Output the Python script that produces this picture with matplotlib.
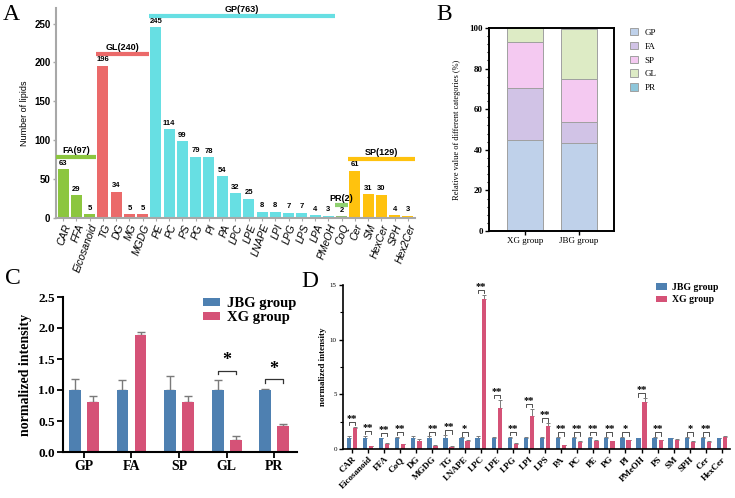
import matplotlib
matplotlib.use('Agg')
import matplotlib.pyplot as plt
import numpy as np
from matplotlib.patches import Patch
from matplotlib.ticker import MultipleLocator

# ---------------- data ----------------
# Panel A
lipids_A = ['CAR', 'FFA', 'Eicosanoid', 'TG', 'DG', 'MG', 'MGDG', 'PE', 'PC', 'PS', 'PG', 'PI',
            'PA', 'LPC', 'LPE', 'LNAPE', 'LPI', 'LPG', 'LPS', 'LPA', 'PMeOH', 'CoQ', 'Cer', 'SM',
            'HexCer', 'SPH', 'Hex2Cer']
counts_A = [63, 29, 5, 196, 34, 5, 5, 245, 114, 99, 79, 78, 54, 32, 25, 8, 8, 7, 7, 4, 3, 2,
            61, 31, 30, 4, 3]
classes_A = ['FA'] * 3 + ['GL'] * 4 + ['GP'] * 14 + ['PR'] + ['SP'] * 5
group_names_A = ['FA', 'GL', 'GP', 'PR', 'SP']

# Panel B (relative %, stacked bottom -> top)
groups_B = ['XG group', 'JBG group']
cats_B = ['GP', 'FA', 'SP', 'GL', 'PR']
GP_B = [45.0, 43.2]
FA_B = [25.5, 10.3]
SP_B = [22.8, 21.5]
GL_B = [6.6, 24.4]
PR_B = [0.1, 0.6]

# Panel C
cats_C = ['GP', 'FA', 'SP', 'GL', 'PR']
jbg_C = [1.0, 1.0, 1.0, 1.0, 1.0]
jbg_err_C = [0.17, 0.16, 0.22, 0.16, 0.02]
xg_C = [0.80, 1.88, 0.81, 0.20, 0.42]
xg_err_C = [0.10, 0.05, 0.09, 0.06, 0.03]
sig_C = ['', '', '', '*', '*']

# Panel D
cats_D = ['CAR', 'Eicosanoid', 'FFA', 'CoQ', 'DG', 'MGDG', 'TG', 'LNAPE', 'LPC', 'LPE', 'LPG',
          'LPI', 'LPS', 'PA', 'PC', 'PE', 'PG', 'PI', 'PMeOH', 'PS', 'SM', 'SPH', 'Cer', 'HexCer']
jbg_D = [1.0] * 24
jbg_err_D = [0.15, 0.2, 0.05, 0.1, 0.15, 0.15, 0.25, 0.08, 0.2, 0.1, 0.1, 0.1, 0.1, 0.08,
             0.08, 0.1, 0.08, 0.08, 0.05, 0.08, 0.05, 0.08, 0.08, 0.05]
xg_D = [1.9, 0.27, 0.5, 0.42, 0.75, 0.3, 0.18, 0.75, 13.7, 3.75, 0.43, 3.05, 2.1, 0.36, 0.65,
        0.73, 0.7, 0.8, 4.3, 0.78, 0.85, 0.6, 0.65, 1.1]
xg_err_D = [0.15, 0.05, 0.05, 0.05, 0.2, 0.05, 0.05, 0.05, 0.4, 0.75, 0.1, 0.65, 0.25, 0.05,
            0.05, 0.05, 0.05, 0.05, 0.35, 0.05, 0.05, 0.15, 0.1, 0.05]
sig_D = ['**', '**', '**', '**', '', '**', '**', '*', '**', '**', '**', '**', '**', '**', '**',
         '**', '**', '*', '**', '**', '', '*', '**', '']

# ---------------- styles ----------------
SERIF = ['Liberation Serif', 'DejaVu Serif']
SANS = ['Liberation Sans', 'DejaVu Sans']
class_colors = {'FA': '#8cc63f', 'GL': '#eb6a6a', 'GP': '#67dfe3', 'PR': '#8fbf78', 'SP': '#ffc20e'}
line_colors = {'FA': '#8cc63f', 'GL': '#eb6a6a', 'GP': '#67dfe3', 'PR': '#8fd070', 'SP': '#ffc20e'}
group_line_y = {'FA': 79, 'GL': 211, 'GP': 260, 'PR': 17, 'SP': 76}
stack_colors_B = {'GP': '#bfd1ea', 'FA': '#d1c3e6', 'SP': '#f4c9f1', 'GL': '#ddebc5', 'PR': '#8ec6da'}
JBG_C = '#4e80b1'
XG_C = '#d55277'
ERR_C = '#7a7a7a'

W, H = 735, 498
fig = plt.figure(figsize=(W / 100, H / 100), dpi=100)


def ax_px(l, t, r, b):
    return fig.add_axes([l / W, 1 - b / H, (r - l) / W, (b - t) / H])


# ================= Panel A =================
axA = ax_px(56, 8, 415, 218)
xA = np.arange(len(lipids_A))
axA.bar(xA, counts_A, width=0.83, color=[class_colors[c] for c in classes_A], zorder=2)
for xi, v in zip(xA, counts_A):
    axA.text(xi, v + 3, str(v), ha='center', va='bottom', fontsize=5.5, fontweight='bold',
             family=SANS)
for g in group_names_A:
    idx = [i for i, c in enumerate(classes_A) if c == g]
    s, e = idx[0] - 0.5, idx[-1] + 0.5
    y = group_line_y[g]
    axA.plot([s, e], [y, y], color=line_colors[g], lw=3, solid_capstyle='butt', zorder=3)
    axA.text((s + e) / 2, y + 2, f'{g}({sum(counts_A[i] for i in idx)})', ha='center',
             va='bottom', fontsize=6.5, fontweight='bold', family=SANS, zorder=4)
axA.set_xlim(-0.53, len(lipids_A) - 1 + 0.53)
axA.set_ylim(0, 270)
axA.set_yticks([0, 50, 100, 150, 200, 250])
axA.set_xticks(xA)
axA.set_xticklabels(lipids_A, rotation=70, ha='right', rotation_mode='anchor', fontsize=7.5,
                    style='italic', family=SANS)
for lab in axA.get_yticklabels():
    lab.set_fontweight('bold')
    lab.set_family(SANS)
    lab.set_fontsize(7)
axA.set_ylabel('Number of lipids', fontsize=6.5, family=SANS, labelpad=4)
for s in ['top', 'right']:
    axA.spines[s].set_visible(False)
for s in ['left', 'bottom']:
    axA.spines[s].set_color('#a8a8a8')
    axA.spines[s].set_linewidth(1.5)
axA.tick_params(axis='y', length=2.5, width=1, color='#a8a8a8', pad=1.5)
axA.tick_params(axis='x', length=2, width=0.8, color='#a8a8a8', pad=1.5)

# ================= Panel B =================
axB = ax_px(489, 28, 614, 231)
xB = np.arange(len(groups_B))
bottom = np.zeros(len(groups_B))
stack_vals = {'GP': GP_B, 'FA': FA_B, 'SP': SP_B, 'GL': GL_B, 'PR': PR_B}
for c in cats_B:
    vals = np.array(stack_vals[c])
    axB.bar(xB, vals, bottom=bottom, width=0.67, color=stack_colors_B[c], edgecolor='#a0a0a0',
            linewidth=0.7, label=c)
    bottom += vals
axB.set_xlim(-0.67, 1.65)
axB.set_ylim(0, 100)
axB.set_yticks([0, 20, 40, 60, 80, 100])
axB.yaxis.set_minor_locator(MultipleLocator(4))
axB.set_xticks(xB)
axB.set_xticklabels(groups_B, fontsize=6.5, family=SERIF)
for lab in axB.get_yticklabels():
    lab.set_fontweight('bold')
    lab.set_family(SERIF)
    lab.set_fontsize(6.5)
axB.set_ylabel('Relative value of different categories (%)', fontsize=6, family=SERIF,
               labelpad=6)
for s in axB.spines.values():
    s.set_linewidth(1.4)
axB.tick_params(axis='both', which='major', length=3, width=1, pad=1.5)
axB.tick_params(axis='y', which='minor', length=1.8, width=0.8)
legB = axB.legend(loc='upper left', bbox_to_anchor=(630 / W, 1 - 28 / H),
                  bbox_transform=fig.transFigure, frameon=False, prop={'family': SERIF, 'size': 6.5},
                  handlelength=0.9, handleheight=0.9, handletextpad=0.7, labelspacing=0.55,
                  borderpad=0, borderaxespad=0)

# ================= Panel C =================
axC = ax_px(63, 297, 297, 452)
xC = np.arange(len(cats_C))
off, bw = 0.19, 0.25
axC.bar(xC - off, jbg_C, width=bw, color=JBG_C, label='JBG group', zorder=2)
axC.bar(xC + off, xg_C, width=bw, color=XG_C, label='XG group', zorder=2)
axC.errorbar(xC - off, jbg_C, yerr=[np.zeros(len(xC)), jbg_err_C], fmt='none', ecolor=ERR_C,
             elinewidth=1, capsize=3, capthick=1, zorder=1)
axC.errorbar(xC + off, xg_C, yerr=[np.zeros(len(xC)), xg_err_C], fmt='none', ecolor=ERR_C,
             elinewidth=1, capsize=3, capthick=1, zorder=1)
for i, s in enumerate(sig_C):
    if not s:
        continue
    top = max(jbg_C[i] + jbg_err_C[i], xg_C[i] + xg_err_C[i])
    yb = top + 0.15
    axC.plot([i - off, i - off, i + off, i + off], [yb - 0.05, yb, yb, yb - 0.05],
             color='#333333', lw=0.9)
    axC.text(i, yb + 0.03, s, ha='center', va='bottom', fontsize=13, fontweight='bold',
             family=SERIF)
axC.set_xlim(-0.44, len(cats_C) - 1 + 0.48)
axC.set_ylim(0, 2.5)
axC.set_yticks([0, 0.5, 1.0, 1.5, 2.0, 2.5])
axC.set_yticklabels(['0.0', '0.5', '1.0', '1.5', '2.0', '2.5'])
axC.set_xticks(xC)
axC.set_xticklabels(cats_C, fontsize=10, fontweight='bold', family=SERIF)
for lab in axC.get_yticklabels():
    lab.set_fontweight('bold')
    lab.set_family(SERIF)
    lab.set_fontsize(9.5)
axC.set_ylabel('normalized intensity', fontsize=10, fontweight='bold', family=SERIF, labelpad=4)
for s in ['top', 'right']:
    axC.spines[s].set_visible(False)
for s in ['left', 'bottom']:
    axC.spines[s].set_linewidth(1.5)
axC.tick_params(axis='both', length=4, width=1.3, pad=2)
axC.legend(loc='upper left', bbox_to_anchor=(203 / W, 1 - 297 / H), bbox_transform=fig.transFigure,
           frameon=False, prop={'family': SERIF, 'size': 10.5, 'weight': 'bold'},
           handlelength=1.15, handleheight=0.5, handletextpad=0.5, labelspacing=0.1,
           borderpad=0, borderaxespad=0)

# ================= Panel D =================
axD = ax_px(343, 285, 730, 449)
xD = np.arange(len(cats_D))
offD, bwD = 0.19, 0.27
axD.bar(xD - offD, jbg_D, width=bwD, color=JBG_C, label='JBG group', zorder=2)
axD.bar(xD + offD, xg_D, width=bwD, color=XG_C, label='XG group', zorder=2)
axD.errorbar(xD - offD, jbg_D, yerr=[np.zeros(len(xD)), jbg_err_D], fmt='none', ecolor=ERR_C,
             elinewidth=0.7, capsize=1.3, capthick=0.7, zorder=1)
axD.errorbar(xD + offD, xg_D, yerr=[np.zeros(len(xD)), xg_err_D], fmt='none', ecolor=ERR_C,
             elinewidth=0.7, capsize=1.3, capthick=0.7, zorder=1)
for i, s in enumerate(sig_D):
    if not s:
        continue
    top = max(jbg_D[i] + jbg_err_D[i], xg_D[i] + xg_err_D[i])
    yb = top + 0.45
    axD.plot([i - offD, i - offD, i + offD, i + offD], [yb - 0.3, yb, yb, yb - 0.3],
             color='#333333', lw=0.6, clip_on=False)
    axD.text(i, yb - 0.1, s, ha='center', va='bottom', fontsize=7.5, fontweight='bold',
             family=SERIF, clip_on=False)
axD.set_xlim(-0.56, len(cats_D) - 1 + 0.5)
axD.set_ylim(0, 15)
axD.set_yticks([0, 5, 10, 15])
axD.yaxis.set_minor_locator(MultipleLocator(2.5))
axD.set_xticks(xD)
axD.set_xticklabels(cats_D, rotation=45, ha='right', rotation_mode='anchor', fontsize=6.5,
                    fontweight='bold', family=SERIF)
for lab in axD.get_yticklabels():
    lab.set_family(SERIF)
    lab.set_fontsize(5)
axD.set_ylabel('normalized intensity', fontsize=6.5, fontweight='bold', family=SERIF, labelpad=2)
for s in ['top', 'right']:
    axD.spines[s].set_visible(False)
for s in ['left', 'bottom']:
    axD.spines[s].set_linewidth(1.2)
axD.tick_params(axis='both', which='major', length=3, width=1, pad=1.5)
axD.tick_params(axis='y', which='minor', length=2, width=0.8)
axD.legend(loc='upper left', bbox_to_anchor=(656 / W, 1 - 283 / H), bbox_transform=fig.transFigure,
           frameon=False, prop={'family': SERIF, 'size': 7, 'weight': 'bold'},
           handlelength=1.1, handleheight=0.6, handletextpad=0.5, labelspacing=0.35,
           borderpad=0, borderaxespad=0)

# ---------------- panel letters ----------------
for letter, (px, py) in {'A': (11, 14), 'B': (444, 15), 'C': (13, 279), 'D': (310, 281)}.items():
    fig.text(px / W, 1 - py / H, letter, fontsize=17, family=SERIF, ha='center', va='center')

fig.savefig('out.png', dpi=100)
